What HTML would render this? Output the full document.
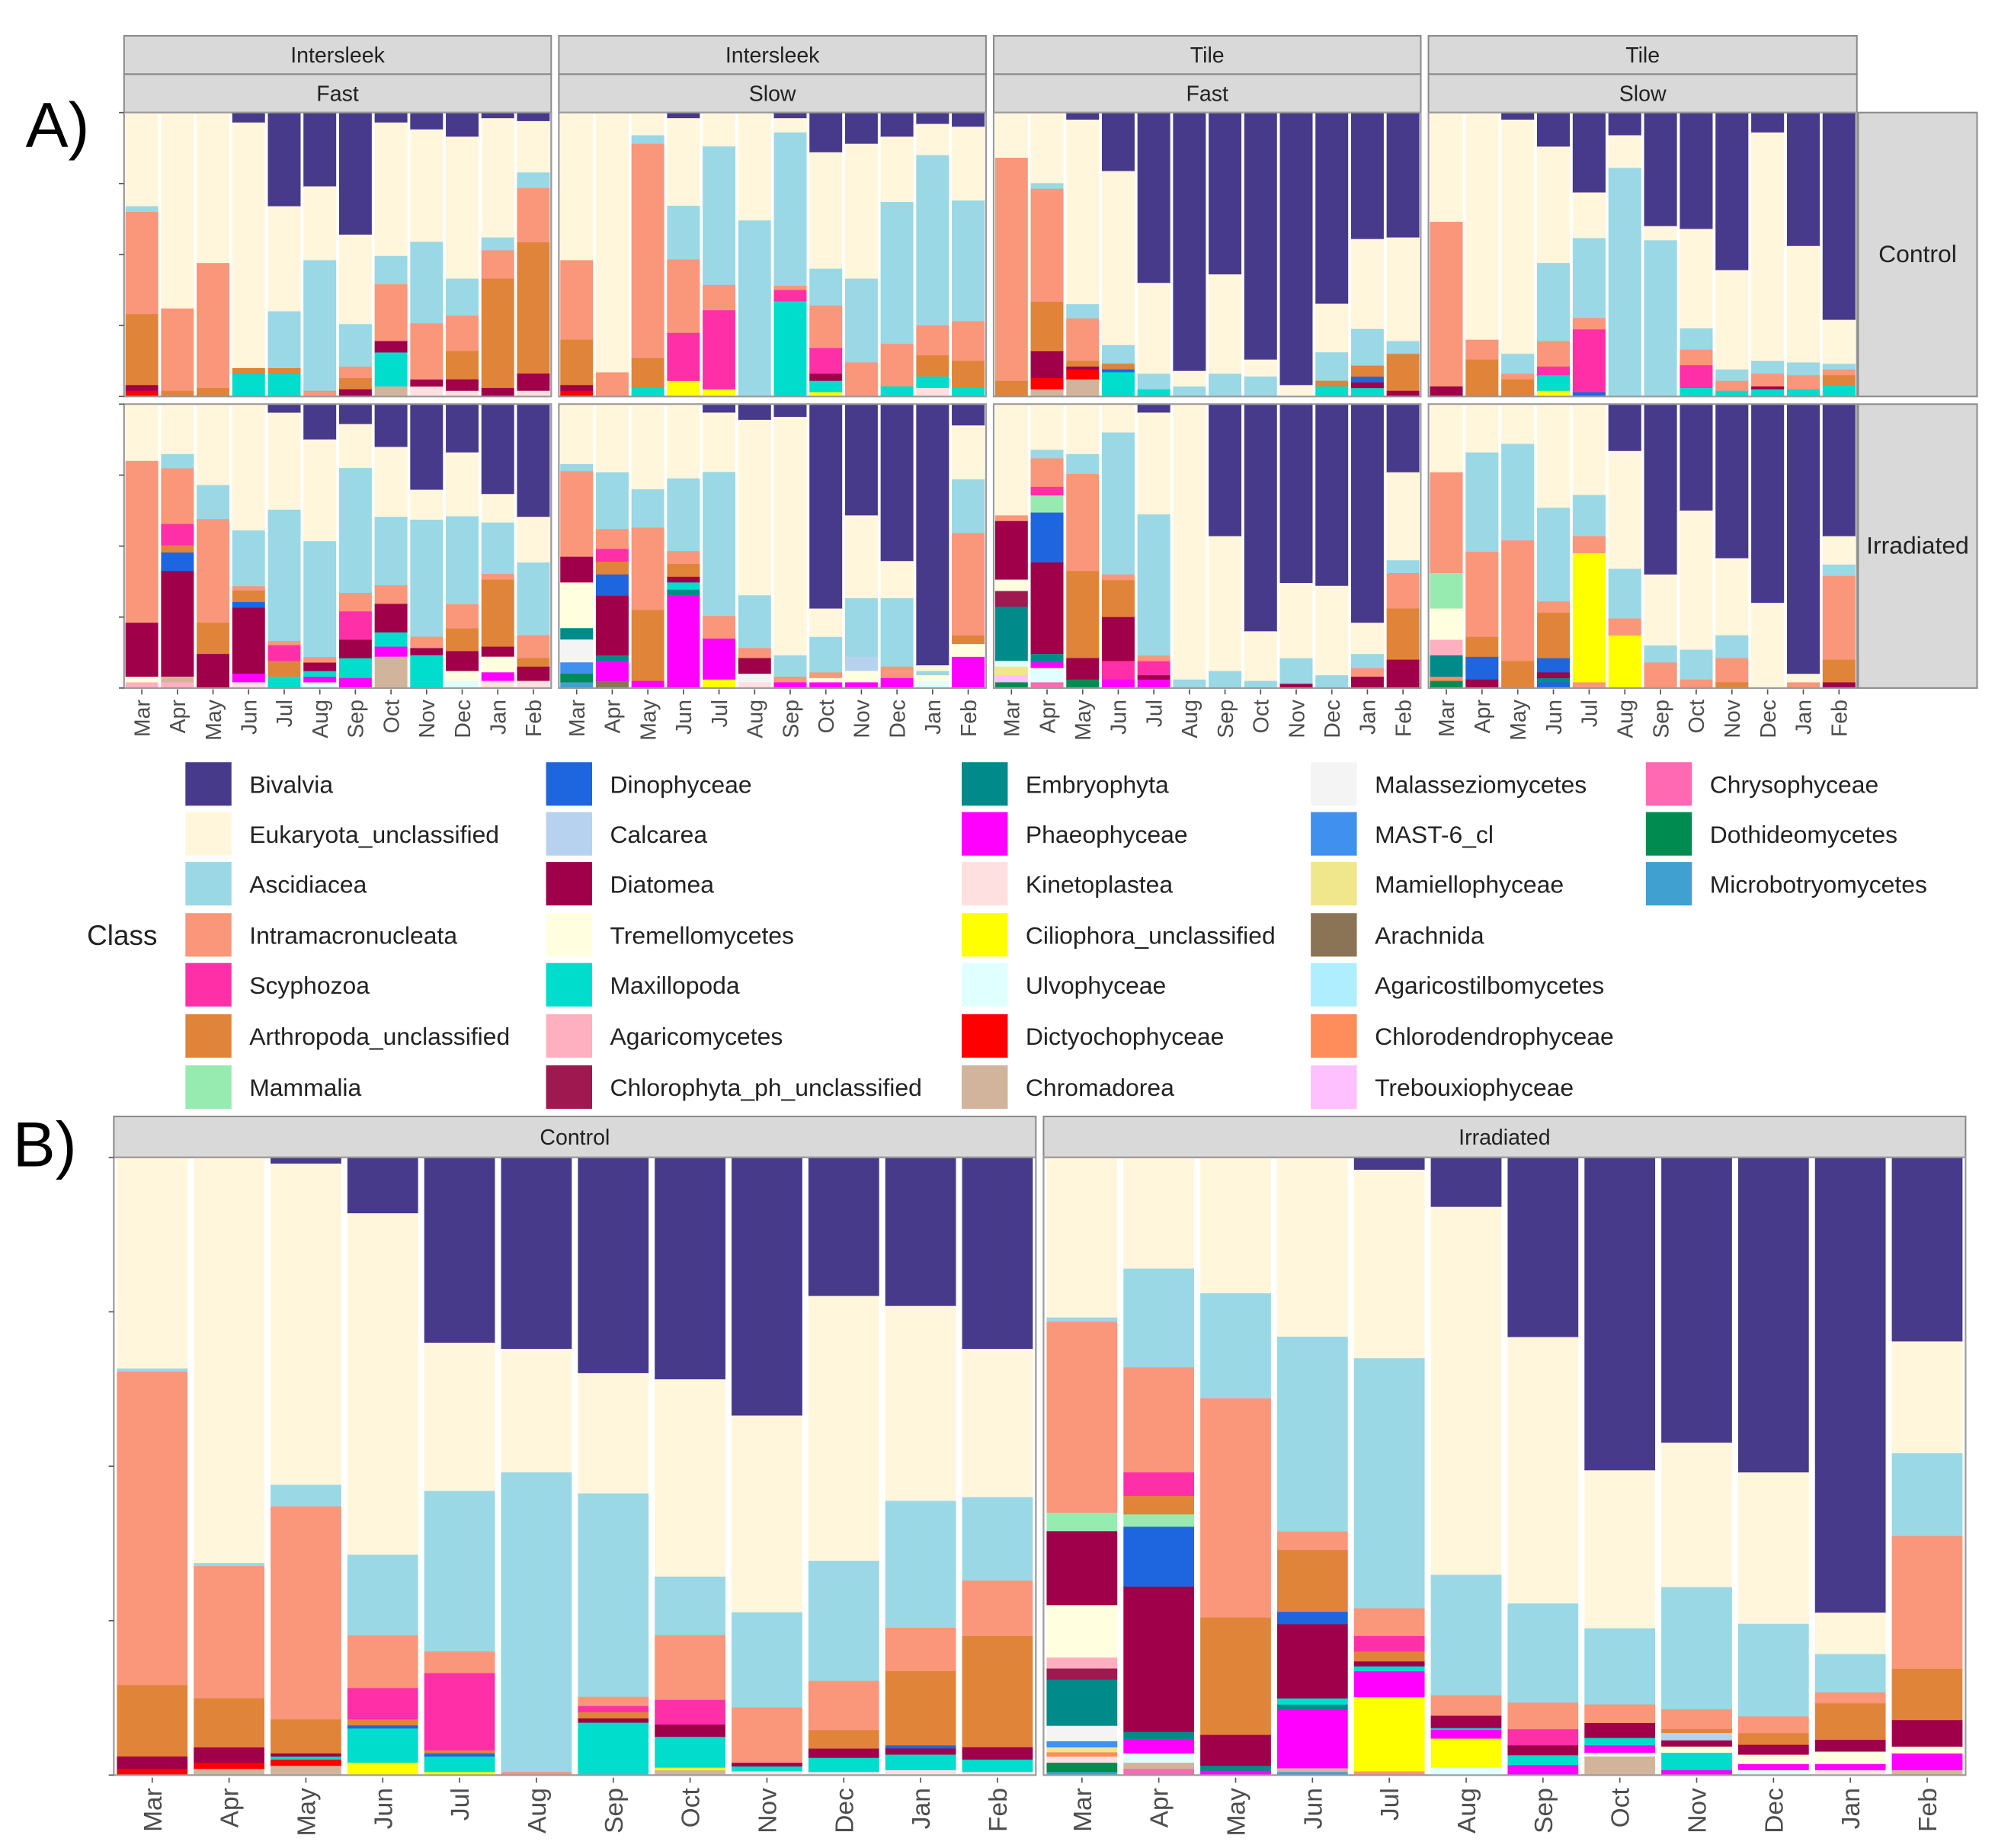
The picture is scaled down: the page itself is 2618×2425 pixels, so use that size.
<!DOCTYPE html>
<html><head><meta charset="utf-8">
<style>
html,body{margin:0;padding:0;background:#fff;}
svg{display:block;}
text{font-family:"Liberation Sans",Arial,sans-serif;}
</style></head>
<body>
<svg id="chart" xmlns="http://www.w3.org/2000/svg" width="2618" height="2425" viewBox="0 0 1560 1445" preserveAspectRatio="none">
<text x="20" y="115" font-size="50" fill="#000">A)</text>
<text x="10" y="912" font-size="50" fill="#000">B)</text>
<text x="68" y="739" font-size="22" fill="#222">Class</text>
<g id="plots"></g>
<g id="legend"></g>
</svg>
<script>
const months=['Mar','Apr','May','Jun','Jul','Aug','Sep','Oct','Nov','Dec','Jan','Feb'];
const classNames=['Bivalvia','Eukaryota_unclassified','Ascidiacea','Intramacronucleata','Scyphozoa','Arthropoda_unclassified','Mammalia','Dinophyceae','Calcarea','Diatomea','Tremellomycetes','Maxillopoda','Agaricomycetes','Chlorophyta_ph_unclassified','Embryophyta','Phaeophyceae','Kinetoplastea','Ciliophora_unclassified','Ulvophyceae','Dictyochophyceae','Chromadorea','Malasseziomycetes','MAST-6_cl','Mamiellophyceae','Arachnida','Agaricostilbomycetes','Chlorodendrophyceae','Trebouxiophyceae','Chrysophyceae','Dothideomycetes','Microbotryomycetes'];
const classCodes=['Biv','Euk','Asc','Int','Scy','Art','Mam','Din','Cal','Dia','Tre','Max','Aga','Chl','Emb','Pha','Kin','Cil','Ulv','Dic','Chr','Mal','MAS','Mmi','Ara','Ags','Cld','Trb','Chy','Dot','Mic'];
const classColors=['#483a8b','#fff6dc','#9ad8e5','#fa967a','#ff2fa8','#e0843a','#98ebb0','#1e66e0','#b6d2ef','#a0004a','#ffffe0','#00ddcc','#ffb0c0','#a01850','#008b8b','#ff00ff','#ffe0e0','#ffff00','#e0ffff','#ff0000','#d2b49c','#f4f4f4','#4090f0','#f0e68c','#8b7355','#aeeeff','#ff8c5a','#ffc0ff','#ff69b4','#008b50','#40a0d0'];

// Panel A, Control row (top-to-bottom segments: code, percent)
const A_IF_C=[
['Euk',33,'Asc',2,'Int',36,'Art',25,'Dia',2,'Dic',2],
['Euk',69,'Int',29,'Art',2],
['Euk',53,'Int',44,'Art',3],
['Biv',3.5,'Euk',86.5,'Art',2,'Max',8],
['Biv',33,'Euk',37,'Asc',20,'Art',2,'Max',8],
['Biv',26,'Euk',26,'Asc',46,'Int',2],
['Biv',43,'Euk',31.5,'Asc',15,'Int',4,'Art',4,'Dia',2.5],
['Biv',3.5,'Euk',47,'Asc',10,'Int',20,'Dia',4,'Max',12,'Chr',3.5],
['Biv',6,'Euk',40,'Asc',29,'Int',20,'Dia',2.5,'Kin',3.5],
['Biv',8.5,'Euk',50,'Asc',13,'Int',12.5,'Art',10,'Dia',4,'Kin',2],
['Biv',2,'Euk',42,'Asc',4.5,'Int',10,'Art',38.5,'Dia',3],
['Biv',3,'Euk',18,'Asc',5.5,'Int',19,'Art',46,'Dia',6,'Kin',2]];
const A_IS_C=[
['Euk',52,'Int',28,'Art',16,'Dia',2,'Dic',2],
['Euk',91.5,'Int',8.5],
['Euk',8,'Asc',3,'Int',75.5,'Art',10.5,'Max',3],
['Biv',2,'Euk',31,'Asc',19,'Int',26,'Scy',17,'Cil',5.5],
['Euk',12,'Asc',49,'Int',9,'Scy',28,'Cil',2.5],
['Euk',38,'Asc',62],
['Biv',2,'Euk',5,'Asc',54,'Int',1.5,'Scy',4,'Max',33.5],
['Biv',14,'Euk',41,'Asc',13,'Int',15,'Scy',9,'Dia',2.5,'Max',4,'Cil',1.5],
['Biv',11,'Euk',47.5,'Asc',29.5,'Int',12],
['Biv',8.5,'Euk',23,'Asc',50,'Int',15,'Max',3.5],
['Biv',4,'Euk',11,'Asc',60,'Int',10.5,'Art',7.5,'Max',4,'Kin',3],
['Biv',5,'Euk',26,'Asc',42.5,'Int',14,'Art',9.5,'Max',3]];
const A_TF_C=[
['Euk',16,'Int',79,'Art',5.5],
['Euk',25,'Asc',2,'Int',40,'Art',17.5,'Dia',9.5,'Dic',4,'Chr',2.5],
['Biv',2.5,'Euk',65,'Asc',5,'Int',15,'Art',2,'Dia',1,'Dic',3.5,'Chr',6],
['Biv',20.5,'Euk',61,'Asc',6.5,'Art',2,'Din',1,'Max',8.5],
['Biv',60,'Euk',32,'Asc',5.5,'Max',2.5],
['Biv',91,'Euk',5.5,'Asc',3.5],
['Biv',57,'Euk',35,'Asc',8],
['Biv',87,'Euk',6,'Asc',7],
['Biv',96,'Euk',4],
['Biv',67,'Euk',17,'Asc',10,'Art',2,'Max',3.5],
['Biv',45,'Euk',32,'Asc',13,'Art',4,'Din',2,'Dia',2,'Max',3],
['Biv',44,'Euk',36.5,'Asc',4.5,'Art',13,'Dia',2]];
const A_TS_C=[
['Euk',38.5,'Int',58,'Dia',3.5],
['Euk',80,'Int',7,'Art',13],
['Biv',2.5,'Euk',82.5,'Asc',7,'Int',2,'Art',6],
['Biv',12,'Euk',41,'Asc',27.5,'Int',9,'Scy',3,'Max',5.5,'Cil',2],
['Biv',28,'Euk',16,'Asc',28,'Int',4,'Scy',22,'Din',1.5],
['Biv',8,'Euk',11.5,'Asc',80.5],
['Biv',40,'Euk',5,'Asc',55],
['Biv',41,'Euk',35,'Asc',7.5,'Int',5.5,'Scy',8,'Max',3],
['Biv',55.5,'Euk',35,'Asc',4,'Int',3.5,'Max',2],
['Biv',7,'Euk',80.5,'Asc',4.5,'Int',4.5,'Dia',1,'Max',2.5],
['Biv',47,'Euk',41,'Asc',4.5,'Int',5,'Max',2.5],
['Biv',73,'Euk',15.5,'Asc',2,'Int',2,'Art',3.5,'Max',4]];
// Panel A, Irradiated row
const A_IF_I=[
['Euk',20,'Int',57,'Dia',19,'Tre',2,'Aga',2],
['Euk',17.5,'Asc',5,'Int',19.5,'Scy',7.5,'Art',2.5,'Din',6.5,'Dia',37,'Chr',2,'Aga',2],
['Euk',28.5,'Asc',12,'Int',36.5,'Art',11,'Dia',12],
['Euk',44,'Asc',19.5,'Int',1.5,'Art',4,'Din',2,'Dia',23,'Pha',3,'Kin',2],
['Biv',3,'Euk',34,'Asc',46,'Int',1.5,'Scy',5.5,'Art',5.5,'Max',4],
['Biv',12.5,'Euk',36,'Asc',41,'Int',2,'Dia',3,'Max',2,'Pha',2,'Ulv',2],
['Biv',7,'Euk',15.5,'Asc',44,'Int',6.5,'Scy',10,'Dia',6.5,'Max',7,'Pha',3.5],
['Biv',15,'Euk',24.5,'Asc',24,'Int',6.5,'Dia',10,'Max',5,'Pha',3.5,'Chr',11],
['Biv',30,'Euk',10.5,'Asc',41,'Int',4,'Dia',2.5,'Max',11.5],
['Biv',17,'Euk',22.5,'Asc',31,'Int',8.5,'Art',8,'Dia',7,'Tre',3.5,'Ulv',2.5],
['Biv',31.5,'Euk',10,'Asc',18,'Int',2,'Art',23.5,'Dia',3.5,'Tre',5.5,'Pha',3,'Kin',2.5],
['Biv',39.5,'Euk',16,'Asc',25.5,'Int',8,'Art',3,'Dia',5,'Kin',2.5]];
const A_IS_I=[
['Euk',21,'Asc',2.5,'Int',30,'Dia',9,'Tre',16,'Emb',4,'Mal',8,'MAS',4,'Dot',3,'Mic',2],
['Euk',24,'Asc',20,'Int',7,'Scy',4.5,'Art',4.5,'Din',7.5,'Dia',21,'Emb',2,'Pha',7,'Ara',2.5],
['Euk',30,'Asc',13.5,'Int',29,'Art',25,'Pha',2.5],
['Euk',26,'Asc',25.5,'Int',4.5,'Art',4.5,'Dia',2,'Max',2.5,'Emb',2,'Pha',32.5],
['Biv',3,'Euk',21,'Asc',51,'Int',8,'Pha',14.5,'Cil',3],
['Biv',5.5,'Euk',61.5,'Asc',18.5,'Int',3.5,'Dia',5.5,'Mal',3,'Kin',2],
['Biv',4.5,'Euk',84,'Asc',7.5,'Int',2,'Pha',2],
['Biv',72,'Euk',10,'Asc',12.5,'Int',2,'Tre',1.5,'Pha',2],
['Biv',39,'Euk',29,'Asc',20.5,'Cal',5,'Tre',4,'Pha',2],
['Biv',55,'Euk',13,'Asc',24,'Int',4,'Pha',3.5],
['Biv',92,'Euk',2,'Asc',1.5,'Tre',2,'Ulv',2.5],
['Biv',7.5,'Euk',19,'Asc',19,'Int',36,'Art',3,'Tre',4.5,'Pha',11]];
const A_TF_I=[
['Euk',39,'Int',2,'Dia',20.5,'Tre',4,'Chl',5.5,'Emb',19,'Ulv',2,'Mmi',3,'Trb',2.5,'Dot',2],
['Euk',16,'Asc',3,'Int',10,'Scy',3,'Mam',6,'Din',17.5,'Dia',32,'Emb',3,'Pha',2,'Ulv',5,'Chy',2],
['Euk',17.5,'Asc',7,'Int',34,'Art',30.5,'Dia',7.5,'Dot',3],
['Euk',10,'Asc',50,'Int',2,'Art',13,'Dia',15.5,'Scy',6.5,'Pha',3],
['Biv',3,'Euk',36,'Asc',50,'Int',2,'Scy',5,'Dia',1.5,'Pha',3],
['Euk',97,'Asc',3],
['Biv',46.5,'Euk',47.5,'Asc',6],
['Biv',80,'Euk',17.5,'Asc',2.5],
['Biv',63,'Euk',26.5,'Asc',9,'Dia',1.5],
['Biv',64,'Euk',31.5,'Asc',4.5],
['Biv',77,'Euk',11,'Asc',5,'Int',3,'Dia',4],
['Biv',24,'Euk',31,'Asc',4.5,'Int',12.5,'Art',18,'Dia',10]];
const A_TS_I=[
['Euk',24,'Int',35.5,'Mam',12.5,'Tre',11,'Aga',5.5,'Emb',7.5,'Cld',1.5,'Dot',2.5],
['Euk',17,'Asc',35,'Int',30,'Art',7,'Din',8,'Dia',3],
['Euk',14,'Asc',34,'Int',42.5,'Art',9.5],
['Euk',36.5,'Asc',33,'Int',4,'Art',16,'Din',5,'Dia',2,'Emb',1.5,'Din',2],
['Euk',32,'Asc',14.5,'Int',6,'Cil',45.5,'Int',2],
['Biv',16.5,'Euk',41.5,'Asc',17.5,'Int',6,'Cil',18.5],
['Biv',60,'Euk',25,'Asc',6,'Int',9],
['Biv',37.5,'Euk',49,'Asc',10.5,'Int',3],
['Biv',54,'Euk',27,'Asc',8,'Int',8.5,'Art',2],
['Biv',70,'Euk',30],
['Biv',95,'Euk',3,'Int',2],
['Biv',46.5,'Euk',10,'Asc',4,'Int',29.5,'Art',8,'Dia',2]];
// Panel B
const B_C=[
['Euk',34,'Asc',0.5,'Int',50.5,'Art',11.5,'Dia',2,'Dic',1],
['Euk',66,'Asc',0.5,'Int',21.5,'Art',8,'Dia',2.5,'Dic',1,'Chr',1],
['Biv',1,'Euk',52,'Asc',3.5,'Int',34.5,'Art',5.5,'Dia',0.5,'Max',0.5,'Dic',1,'Chr',1.5],
['Biv',9,'Euk',55,'Asc',13,'Int',8.5,'Scy',5,'Art',1,'Din',0.5,'Max',5.5,'Cil',2],
['Biv',30,'Euk',24,'Asc',26,'Int',3.5,'Scy',12.5,'Art',0.5,'Din',0.5,'Max',2.5,'Cil',0.5],
['Biv',31,'Euk',20,'Asc',48.5,'Int',0.5],
['Biv',35,'Euk',19.5,'Asc',33,'Int',1.5,'Scy',1,'Art',1,'Dia',0.7,'Max',8.5],
['Biv',36,'Euk',32,'Asc',9.5,'Int',10.5,'Scy',4,'Dia',2,'Max',5,'Cil',0.4,'Chr',0.8],
['Biv',42,'Euk',32,'Asc',15.5,'Int',9,'Dia',0.6,'Max',0.8,'Kin',0.6],
['Biv',22.5,'Euk',43,'Asc',19.5,'Int',8,'Art',3,'Dia',1.5,'Max',2.3,'Kin',0.5],
['Biv',24,'Euk',31.5,'Asc',20.5,'Int',7,'Art',12,'Din',0.5,'Dia',1,'Max',2.5,'Kin',0.8],
['Biv',31,'Euk',24,'Asc',13.5,'Int',9,'Art',18,'Dia',2,'Max',2,'Kin',0.5]];
const B_I=[
['Euk',26,'Asc',0.7,'Int',31,'Mam',3,'Dia',12,'Tre',8.5,'Aga',1.8,'Chl',1.8,'Emb',7.5,'Mal',2.5,'MAS',1,'Mmi',0.8,'Cld',0.7,'Kin',1,'Dot',1.5,'Mic',0.5],
['Euk',18,'Asc',16,'Int',17,'Scy',3.8,'Art',3,'Mam',2,'Din',9.7,'Dia',23.5,'Emb',1.2,'Pha',2.3,'Ulv',1.5,'Chr',1,'Chy',1],
['Euk',22,'Asc',17,'Int',35.5,'Art',19,'Dia',5,'Emb',0.8,'Pha',0.7],
['Euk',29,'Asc',31.5,'Int',3,'Art',10,'Din',2,'Dia',12,'Max',1,'Emb',0.8,'Pha',9.5,'Chr',0.6,'Mic',0.5],
['Biv',2,'Euk',30.5,'Asc',40.5,'Int',4.5,'Scy',2.5,'Art',1.6,'Dia',0.8,'Max',0.8,'Pha',4.2,'Cil',12,'Int',0.6],
['Biv',8,'Euk',59.5,'Asc',19.5,'Int',3.3,'Dia',2,'Max',0.3,'Pha',1.4,'Cil',4.7,'Ulv',1.2],
['Biv',29,'Euk',43,'Asc',16,'Int',4.3,'Scy',2.6,'Dia',1.6,'Max',1.6,'Pha',1.6],
['Biv',50.5,'Euk',25.5,'Asc',12.3,'Int',3,'Dia',2.4,'Max',1.2,'Pha',1.2,'Ulv',0.6,'Chr',3],
['Biv',46,'Euk',23.3,'Asc',19.7,'Int',3.2,'Art',0.6,'Cal',1.2,'Dia',1,'Tre',1,'Max',2.8,'Pha',0.8],
['Biv',51,'Euk',24.5,'Asc',15,'Int',2.7,'Art',1.9,'Dia',1.6,'Tre',1.5,'Pha',1,'Ulv',0.8],
['Biv',73.7,'Euk',6.7,'Asc',6.2,'Int',1.8,'Art',5.9,'Dia',1.9,'Tre',2,'Pha',1,'Kin',0.8],
['Biv',29.8,'Euk',18.1,'Asc',13.4,'Int',21.5,'Art',8.3,'Dia',4.3,'Tre',1.1,'Pha',2.7,'Chr',0.8]];

const NS='http://www.w3.org/2000/svg';
const plots=document.getElementById('plots');
function mk(tag,attrs,parent){const e=document.createElementNS(NS,tag);for(const k in attrs)e.setAttribute(k,attrs[k]);(parent||plots).appendChild(e);return e;}
function colorOf(code){return classColors[classCodes.indexOf(code)];}

function drawPanel(data,x0,x1,y0,y1,name,bw){
  const g=mk('g',{});
  
  
  const bg=mk('rect',{x:x0,y:y0,width:x1-x0,height:y1-y0,fill:'#fff',stroke:'#9a9a9a','stroke-width':1.2},g);
  
  
  const slot=(x1-x0)/months.length;
  const ys=v=>(y1-y0)*v; // value -> height scale
  data.forEach((bar,i)=>{
    let total=0;for(let k=1;k<bar.length;k+=2)total+=bar[k];
    let y=y0;
    const bx=x0+slot*i+slot*(1-bw)/2;
    for(let k=0;k<bar.length;k+=2){
      const h=ys(bar[k+1]/total);
      const r=mk('rect',{x:bx,y:y,width:slot*bw,height:h+0.3,fill:colorOf(bar[k])},g);
      
      
      y+=h;
    }
  });
  mk('rect',{x:x0,y:y0,width:x1-x0,height:y1-y0,fill:'none',stroke:'#9a9a9a','stroke-width':1.2},g);
  return slot;
}
function strip(x0,x1,y0,y1,label,name,vertical){
  const r=mk('rect',{x:x0,y:y0,width:x1-x0,height:y1-y0,fill:'#d9d9d9',stroke:'#8a8a8a','stroke-width':1.2});
  
  
  const t=mk('text',{x:(x0+x1)/2,y:(y0+y1)/2+6,'font-size':vertical?19:17,'text-anchor':'middle',fill:'#222'});
  t.textContent=label;
  
  
}
function monthLabels(x0,x1,yTop,fs,name){
  const slot=(x1-x0)/months.length;
  months.forEach((m,i)=>{
    const cx=x0+slot*(i+0.5);
    mk('line',{x1:cx,x2:cx,y1:yTop-8,y2:yTop-4,stroke:'#555','stroke-width':1});
    const t=mk('text',{x:cx+fs*0.36,y:yTop,'font-size':fs,'text-anchor':'end',fill:'#4d4d4d',transform:'rotate(-90 '+(cx+fs*0.36)+' '+yTop+')'});
    t.textContent=m;
    
    
  });
}
function yTicks(x,y0,y1){
  for(let k=0;k<=4;k++){const y=y0+(y1-y0)*k/4;mk('line',{x1:x-4,x2:x,y1:y,y2:y,stroke:'#555','stroke-width':1});}
}

// Panel A layout
const colX=[[97,431],[437,771],[777,1111],[1117,1452]];
const top1=['Intersleek','Intersleek','Tile','Tile'];
const top2=['Fast','Slow','Fast','Slow'];
const ctrlData=[A_IF_C,A_IS_C,A_TF_C,A_TS_C];
const irrData=[A_IF_I,A_IS_I,A_TF_I,A_TS_I];
colX.forEach((c,i)=>{
  strip(c[0],c[1],28,58,top1[i],'strip-substrate-'+i,false);
  strip(c[0],c[1],58,88,top2[i],'strip-speed-'+i,false);
  drawPanel(ctrlData[i],c[0],c[1],88,310,'a-control-'+top1[i].toLowerCase()+'-'+top2[i].toLowerCase(),0.92);
  drawPanel(irrData[i],c[0],c[1],316,538,'a-irradiated-'+top1[i].toLowerCase()+'-'+top2[i].toLowerCase(),0.92);
  monthLabels(c[0],c[1],547,17,'a-month-label-'+i);
});
yTicks(97,88,310);yTicks(97,316,538);
strip(1453,1546,88,310,'Control','strip-control',true);
strip(1453,1546,316,538,'Irradiated','strip-irradiated',true);

// Panel B layout
strip(89,810,873,905,'Control','strip-b-control',false);
strip(816,1537,873,905,'Irradiated','strip-b-irradiated',false);
drawPanel(B_C,89,810,905,1388,'b-control',0.92);
drawPanel(B_I,816,1537,905,1388,'b-irradiated',0.92);
yTicks(89,905,1388);
monthLabels(89,810,1398,20,'b-month-label-control');
monthLabels(816,1537,1398,20,'b-month-label-irradiated');

// Legend
const legend=document.getElementById('legend');
const legCols=[145,427,752,1025,1287];
const legRows=[613,652,691,731,770,810,850];
classNames.forEach((nm,i)=>{
  const c=Math.floor(i/7),r=i%7;
  const kx=legCols[c],cy=legRows[r];
  const key=mk('rect',{x:kx,y:cy-17,width:36,height:34,fill:classColors[i]},legend);
  
  
  const t=mk('text',{x:kx+50,y:cy+7,'font-size':19,fill:'#222'},legend);
  t.textContent=nm;
  
  
});
</script>
</body></html>
